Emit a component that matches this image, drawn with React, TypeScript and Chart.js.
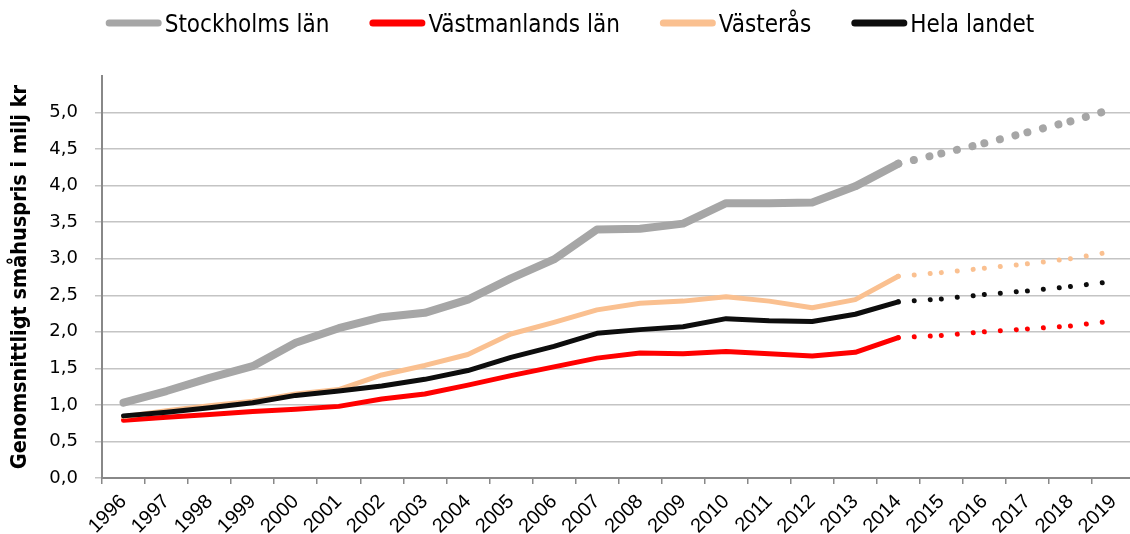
import React, { useEffect, useRef } from "react";
import { Chart, registerables } from "chart.js";

Chart.register(...registerables);

const years = ["1996","1997","1998","1999","2000","2001","2002","2003","2004","2005","2006","2007","2008","2009","2010","2011","2012","2013","2014","2015","2016","2017","2018","2019"];
const stockholm = [1.03, 1.19, 1.37, 1.53, 1.85, 2.05, 2.20, 2.26, 2.44, 2.73, 2.99, 3.40, 3.41, 3.48, 3.76, 3.76, 3.77, 3.99, 4.30, 4.44, 4.58, 4.73, 4.88, 5.05];
const vastmanland = [0.79, 0.83, 0.87, 0.91, 0.94, 0.98, 1.08, 1.15, 1.27, 1.40, 1.52, 1.64, 1.71, 1.70, 1.73, 1.70, 1.67, 1.72, 1.92, 1.95, 2.00, 2.04, 2.08, 2.15];
const vasteras = [0.84, 0.92, 0.99, 1.05, 1.15, 1.21, 1.41, 1.54, 1.69, 1.97, 2.13, 2.30, 2.39, 2.42, 2.48, 2.42, 2.33, 2.44, 2.76, 2.81, 2.87, 2.93, 3.00, 3.10];
const helaLandet = [0.85, 0.90, 0.96, 1.03, 1.13, 1.19, 1.26, 1.35, 1.47, 1.65, 1.80, 1.98, 2.03, 2.07, 2.18, 2.15, 2.14, 2.24, 2.41, 2.45, 2.51, 2.56, 2.62, 2.69];
const seriesNames = ["Stockholms län", "Västmanlands län", "Västerås", "Hela landet"];
const seriesColors = ["#a6a6a6", "#ff0000", "#fac090", "#0d0d0d"];
const seriesWidths = [8, 5, 5, 5];
const lastActualIndex = 18; // 2014
const yTitle = "Genomsnittligt småhuspris i milj kr";

const NARROW = "'DejaVu Sans Condensed', 'Liberation Sans Narrow', 'Liberation Sans', sans-serif";

const legendPlugin = {
  id: "customLegend",
  afterDraw(chart: any) {
    const ctx = chart.ctx as CanvasRenderingContext2D;
    ctx.save();
    ctx.font = `24px ${NARROW}`;
    const lineLen = 49;
    const lineW = 7;
    const gapText = 3;
    const spacing = 40;
    const widths = seriesNames.map((n) => ctx.measureText(n).width);
    const itemW = widths.map((w) => lineLen + lineW + gapText + w);
    const total = itemW.reduce((a, b) => a + b, 0) + spacing * (seriesNames.length - 1);
    let x = 570 - total / 2;
    const yLine = 23;
    const yText = 32;
    seriesNames.forEach((name, i) => {
      ctx.strokeStyle = seriesColors[i];
      ctx.lineWidth = lineW;
      ctx.lineCap = "round";
      ctx.setLineDash([]);
      ctx.beginPath();
      ctx.moveTo(x + lineW / 2, yLine);
      ctx.lineTo(x + lineW / 2 + lineLen, yLine);
      ctx.stroke();
      ctx.fillStyle = "#000";
      ctx.textBaseline = "alphabetic";
      ctx.textAlign = "left";
      ctx.fillText(name, x + lineLen + lineW + gapText, yText);
      x += itemW[i] + spacing;
    });
    ctx.restore();
  },
};

export default function App() {
  const ref = useRef<HTMLCanvasElement | null>(null);
  useEffect(() => {
    if (!ref.current) return;
    const seriesData = [stockholm, vastmanland, vasteras, helaLandet];
    const datasets = seriesData.map((d, i) => ({
      label: seriesNames[i],
      data: d,
      borderColor: seriesColors[i],
      backgroundColor: seriesColors[i],
      borderWidth: seriesWidths[i],
      borderCapStyle: "round" as const,
      borderJoinStyle: "round" as const,
      pointRadius: 0,
      pointHoverRadius: 0,
      tension: 0,
      fill: false,
      order: 4 - i,
      segment: {
        borderDash: (c: any) => (c.p0DataIndex >= lastActualIndex ? [0.01, 16] : undefined),
        borderDashOffset: (c: any) => (c.p0DataIndex >= lastActualIndex ? c.p0DataIndex * 0.0001 : undefined),
      },
    }));
    const chart = new Chart(ref.current, {
      type: "line",
      data: { labels: years, datasets },
      plugins: [legendPlugin],
      options: {
        responsive: false,
        animation: false,
        devicePixelRatio: 1,
        layout: { padding: { top: 76, right: 5, left: 0, bottom: 0 } },
        plugins: { legend: { display: false }, tooltip: { enabled: false } },
        scales: {
          x: {
            type: "category",
            offset: true,
            grid: { offset: true, drawOnChartArea: false, tickLength: 6, color: "#888888", lineWidth: 1.5 },
            border: { display: true, color: "#888888", width: 2 },
            ticks: {
              autoSkip: false,
              minRotation: 45,
              maxRotation: 45,
              padding: 6,
              color: "#000",
              font: { family: "'Liberation Sans', Arial, sans-serif", size: 20 },
            },
            afterFit: (s: any) => { s.height = 56; },
          },
          y: {
            min: 0,
            max: 5.5,
            afterBuildTicks: (s: any) => { s.ticks = s.ticks.filter((t: any) => t.value <= 5.0001); },
            grid: { color: "#c4c4c4", lineWidth: 1.5, tickLength: 7, tickColor: "#c4c4c4" },
            border: { display: true, color: "#888888", width: 2 },
            ticks: {
              stepSize: 0.5,
              padding: 17,
              color: "#000",
              font: { family: "'DejaVu Sans', sans-serif", size: 18 },
              callback: (v: any) => Number(v).toFixed(1).replace(".", ","),
            },
            title: {
              display: true,
              text: yTitle,
              color: "#000",
              padding: { top: 8, bottom: 0 },
              font: { family: NARROW, size: 21.5, weight: "bold" },
            },
            afterFit: (s: any) => { s.width = 102; },
          },
        },
      } as any,
    });
    return () => chart.destroy();
  }, []);
  return (
    <div style={{ position: "fixed", left: 0, top: 0, width: 1130, height: 534, overflow: "hidden", background: "#fff" }}>
      <canvas ref={ref} width={1140} height={534} style={{ display: "block" }} />
    </div>
  );
}
